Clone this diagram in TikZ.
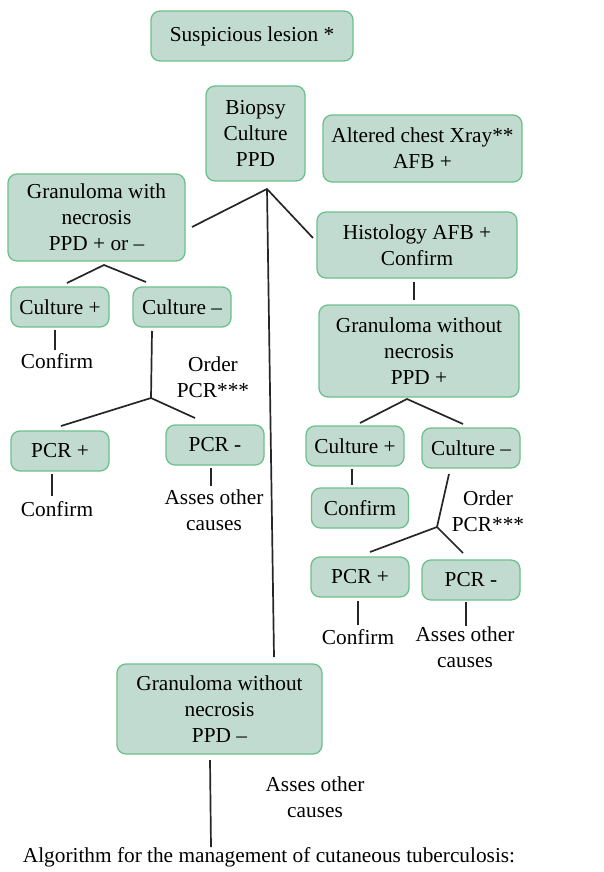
\documentclass[tikz,border=0pt]{standalone}
\usepackage{fontspec}
\setmainfont{Liberation Serif}
\definecolor{fil}{HTML}{C2DBD0}
\definecolor{bdr}{HTML}{6CC08A}
\begin{document}
\begin{tikzpicture}[x=1pt,y=-1pt,
  every node/.style={font=\rmfamily\fontsize{21.3}{26}\selectfont},
  box/.style={draw=bdr,fill=fil,rounded corners=9pt,line width=1.3pt,inner sep=0pt,align=center},
  sbox/.style={box,minimum width=98pt,minimum height=40pt},
  lbl/.style={inner sep=0pt,align=center},
  con/.style={line width=1.7pt,draw=black!85}]
\useasboundingbox (0,0) rectangle (604,872);
% boxes
\node[box,minimum width=202pt,minimum height=50pt] (susp) at (252,36) {Suspicious lesion *};
\node[box,minimum width=99pt,minimum height=95pt] (biopsy) at (255.5,133.5) {Biopsy\\Culture\\PPD};
\node[box,minimum width=199pt,minimum height=67pt] (xray) at (422.5,148.5) {Altered chest Xray**\\AFB +};
\node[box,minimum width=177pt,minimum height=87pt] (gwn) at (96.5,217.5) {Granuloma with\\necrosis\\PPD + or --};
\node[box,minimum width=200pt,minimum height=66pt] (hist) at (417,245) {Histology AFB +\\Confirm};
\node[sbox] (cpl) at (60,307) {Culture +};
\node[sbox] (cml) at (182,307) {Culture --};
\node[lbl] (confl1) at (57,361) {Confirm};
\node[lbl] (orderl) at (213,377) {Order\\PCR***};
\node[sbox] (pcrpl) at (60,451) {PCR +};
\node[sbox] (pcrml) at (215,445) {PCR -};
\node[lbl] (confl2) at (57,509) {Confirm};
\node[lbl] (assesl) at (214,510) {Asses other\\causes};
\node[box,minimum width=200pt,minimum height=92pt] (gwon) at (419,351) {Granuloma without\\necrosis\\PPD +};
\node[sbox] (cpr) at (355,446) {Culture +};
\node[sbox] (cmr) at (471,448) {Culture --};
\node[box,minimum width=97pt,minimum height=40pt] (confbox) at (360,508) {Confirm};
\node[lbl] (orderr) at (488,511) {Order\\PCR***};
\node[sbox] (pcrpr) at (360,577) {PCR +};
\node[sbox] (pcrmr) at (471,580) {PCR -};
\node[lbl] (confr) at (358,637) {Confirm};
\node[lbl] (assesr) at (465,647) {Asses other\\causes};
\node[box,minimum width=205pt,minimum height=90pt] (gwonm) at (219.5,709) {Granuloma without\\necrosis\\PPD --};
\node[lbl] (assesb) at (315,797) {Asses other\\causes};
\node[lbl] (caption) at (269,857) {Algorithm for the management of cutaneous tuberculosis:};
% connector coordinates
\coordinate (bj) at (267,189);
\coordinate (bjl) at (192,227);
\coordinate (bjr) at (313,238);
\coordinate (bjd) at (274,657);
\coordinate (gj) at (104,265);
\coordinate (gjl) at (67,283);
\coordinate (gjr) at (146,282);
\coordinate (c1a) at (55,330);
\coordinate (c1b) at (55,350);
\coordinate (cma) at (152,331);
\coordinate (cmj) at (151,398);
\coordinate (cmjl) at (61,426);
\coordinate (cmjr) at (195,418);
\coordinate (p1a) at (52,474);
\coordinate (p1b) at (52,496);
\coordinate (p2a) at (211,468);
\coordinate (p2b) at (211,486);
\coordinate (ha) at (414,282);
\coordinate (hb) at (414,300);
\coordinate (gw) at (407,399);
\coordinate (gwl) at (360,423);
\coordinate (gwr) at (463,424);
\coordinate (cra) at (352,469);
\coordinate (crb) at (352,485);
\coordinate (cmra) at (449,474);
\coordinate (cmrj) at (437,527);
\coordinate (cmrl) at (370,552);
\coordinate (cmrr) at (463,553);
\coordinate (p3a) at (358,601);
\coordinate (p3b) at (358,625);
\coordinate (p4a) at (466,602);
\coordinate (p4b) at (466,626);
\coordinate (ga) at (210,760);
\coordinate (gb) at (211,847);
% connectors
\draw[con] (bjl) -- (bj) -- (bjr);
\draw[con] (bj) -- (bjd);
\draw[con] (gjl) -- (gj) -- (gjr);
\draw[con] (c1a) -- (c1b);
\draw[con] (cma) -- (cmj);
\draw[con] (cmjl) -- (cmj) -- (cmjr);
\draw[con] (p1a) -- (p1b);
\draw[con] (p2a) -- (p2b);
\draw[con] (ha) -- (hb);
\draw[con] (gwl) -- (gw) -- (gwr);
\draw[con] (cra) -- (crb);
\draw[con] (cmra) -- (cmrj);
\draw[con] (cmrl) -- (cmrj) -- (cmrr);
\draw[con] (p3a) -- (p3b);
\draw[con] (p4a) -- (p4b);
\draw[con] (ga) -- (gb);
\end{tikzpicture}
\end{document}
